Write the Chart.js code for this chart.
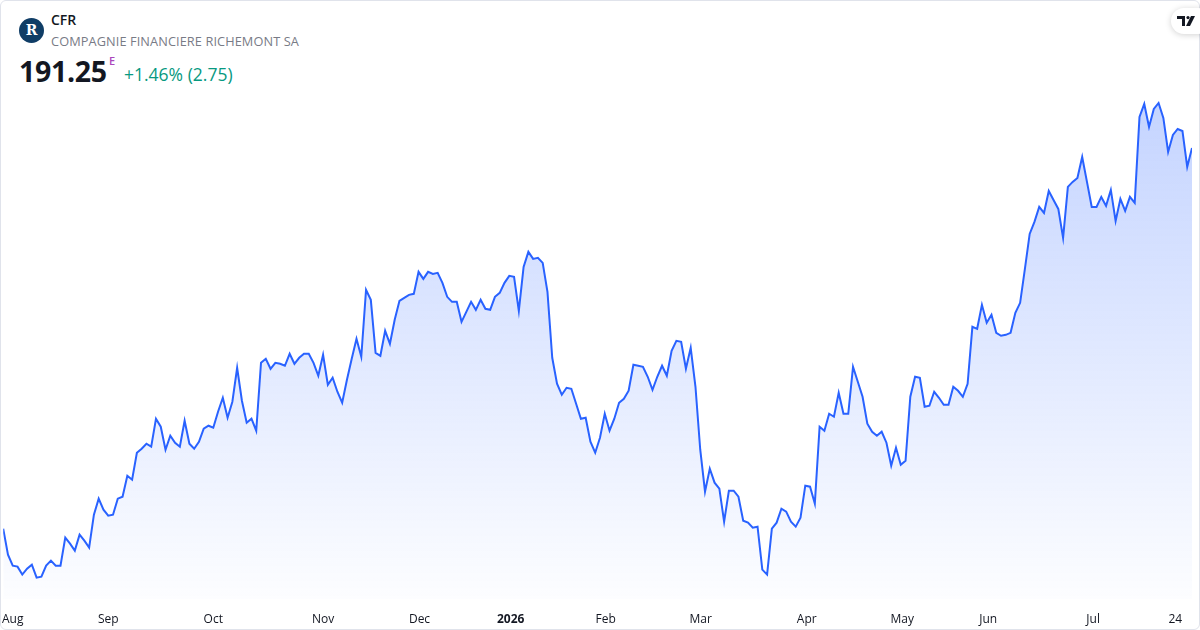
<!DOCTYPE html>
<html>
<head>
<meta charset="utf-8">
<script src="https://cdn.jsdelivr.net/npm/chart.js@4.4.1/dist/chart.umd.min.js"></script>
<style>
  html, body { margin: 0; padding: 0; background: #fff; }
  body { width: 1200px; height: 630px; overflow: hidden; position: relative; font-family: "Open Sans", "Noto Sans", sans-serif; }
  .card { position: absolute; left: 0; top: 0; width: 1198px; height: 628px; border: 1px solid #e0e3eb; border-radius: 6px; z-index: 2; pointer-events: none; }
  .logo { position: absolute; left: 19px; top: 18px; width: 25px; height: 25px; border-radius: 50%; background: #0f3d66;
          color: #fff; font-family: "DejaVu Serif", "Liberation Serif", serif; font-size: 14px; font-weight: bold; text-align: center; line-height: 25px; }
  .sym { position: absolute; left: 51px; top: 10px; font-size: 14px; font-weight: 600; color: #131722; }
  .name { position: absolute; left: 51px; top: 32px; font-size: 12.75px; color: #787b86; letter-spacing: 0.1px; }
  .price { position: absolute; left: 19px; top: 52px; font-size: 28.5px; font-weight: 700; color: #131722; letter-spacing: -0.3px; }
  .flag { position: absolute; left: 109px; top: 53px; font-size: 11px; font-weight: 600; color: #ab47bc; }
  .chg { position: absolute; left: 124px; top: 62px; font-size: 17.5px; color: #089981; }
  .tv { position: absolute; left: 1171px; top: 8px; width: 40px; height: 26px; border-radius: 13px; background: #fff;
        box-shadow: 0 1px 6px rgba(0,0,0,0.18); z-index: 3; }
  .tv svg { position: absolute; left: 6px; top: 8px; }
  #wrap { position: absolute; left: -3px; top: 90px; width: 1203px; height: 542px; }
</style>
</head>
<body>
<div class="card"></div>
<div class="logo">R</div>
<div class="sym">CFR</div>
<div class="name">COMPAGNIE FINANCIERE RICHEMONT SA</div>
<div class="price">191.25</div>
<div class="flag">E</div>
<div class="chg">+1.46% (2.75)</div>
<div class="tv"><svg width="20" height="10" viewBox="0 0 20 10"><path d="M0 0h8v10H5V3H0z M0 0h3v3H0z" fill="#131722"/><circle cx="11" cy="1.6" r="1.6" fill="#131722"/><path d="M14 0h4l-5 10H9z" fill="#131722"/></svg></div>
<div id="wrap"><canvas id="chart"></canvas></div>
<script>
// closing prices, one per trading day (CHF)
const closes = [
  134.1, 130.2, 128.55, 128.4, 127.2, 128.1, 128.7, 126.75, 126.9, 128.55,
  129.3, 128.55, 128.55, 132.75, 131.85, 130.8, 133.2, 132.3, 131.25, 136.2,
  138.6, 136.95, 136.05, 136.2, 138.6, 138.9, 142.05, 141.45, 145.5, 146.1,
  146.85, 146.4, 150.6, 149.4, 145.95, 148.05, 147.0, 146.4, 150.3, 146.85,
  146.1, 147.15, 149.1, 149.55, 149.25, 151.65, 153.75, 150.75, 153.15, 158.25,
  153.3, 150.0, 150.6, 148.8, 159.0, 159.6, 158.1, 159.0, 158.85, 158.55,
  160.35, 158.85, 159.75, 160.35, 160.35, 159.0, 157.05, 160.2, 155.7, 156.75,
  154.65, 153.0, 156.45, 159.6, 162.6, 159.9, 169.95, 168.45, 160.5, 160.05,
  163.8, 161.85, 165.45, 168.3, 168.75, 169.2, 169.35, 172.65, 171.6, 172.65,
  172.35, 172.5, 171.0, 168.9, 168.15, 168.15, 165.15, 166.65, 168.15, 166.95,
  168.45, 167.1, 166.95, 168.9, 169.5, 171.0, 172.05, 171.9, 166.8, 173.4,
  175.65, 174.6, 174.75, 174.0, 169.65, 159.75, 155.85, 154.2, 155.25, 155.1,
  152.85, 150.6, 150.75, 147.15, 145.5, 147.75, 151.35, 148.8, 150.6, 153.0,
  153.6, 154.8, 158.7, 158.55, 158.4, 156.9, 154.95, 156.9, 158.55, 157.05,
  160.8, 162.3, 162.15, 158.1, 161.25, 155.4, 145.95, 139.65, 143.1, 141.0,
  140.1, 135.15, 139.8, 139.8, 138.9, 135.3, 135.0, 134.25, 134.4, 127.95,
  127.2, 134.1, 135.0, 137.1, 136.65, 135.15, 134.4, 135.75, 140.55, 140.4,
  137.85, 149.4, 148.8, 151.35, 150.9, 154.5, 151.35, 151.35, 158.4, 156.15,
  153.9, 149.85, 148.65, 148.05, 148.65, 147.0, 143.55, 146.25, 143.7, 144.3,
  153.9, 156.9, 156.75, 152.4, 152.55, 154.65, 153.75, 152.7, 152.7, 155.4,
  154.8, 153.9, 155.85, 164.4, 164.1, 167.7, 165.0, 166.2, 163.5, 163.05,
  163.2, 163.5, 166.5, 168.0, 173.1, 178.35, 180.15, 182.4, 181.5, 184.8,
  183.45, 182.1, 177.75, 185.4, 186.15, 186.75, 189.9, 186.15, 182.4, 182.4,
  183.9, 182.55, 184.95, 180.3, 183.6, 181.8, 183.9, 183.0, 195.9, 197.85,
  194.4, 197.1, 198.0, 195.75, 190.65, 193.2, 194.1, 193.8, 188.4, 191.25
];

// x-axis labels and the trading-day index where each one sits
const tickLabels = ['Aug', 'Sep', 'Oct', 'Nov', 'Dec', '2026', 'Feb', 'Mar', 'Apr', 'May', 'Jun', 'Jul', '24'];
const tickIndex = [2, 22, 44, 67, 87.2, 106.3, 126.2, 146.1, 168.3, 188.3, 206.3, 228.3, 245.5];

const points = closes.map((v, i) => ({ x: i, y: v }));

const ctx = document.getElementById('chart').getContext('2d');

new Chart(ctx, {
  type: 'line',
  data: {
    datasets: [{
      data: points,
      borderColor: '#2962ff',
      borderWidth: 2,
      pointRadius: 0,
      tension: 0,
      fill: 'start',
      backgroundColor: (c) => {
        const area = c.chart.chartArea;
        if (!area) return 'rgba(41,98,255,0.15)';
        const g = c.chart.ctx.createLinearGradient(0, area.top, 0, area.bottom);
        g.addColorStop(0, 'rgba(41,98,255,0.28)');
        g.addColorStop(1, 'rgba(41,98,255,0.01)');
        return g;
      }
    }]
  },
  options: {
    responsive: true,
    maintainAspectRatio: false,
    animation: false,
    layout: { padding: { left: 2, right: 8, top: 0, bottom: 0 } },
    plugins: { legend: { display: false }, tooltip: { enabled: false } },
    scales: {
      x: {
        type: 'linear',
        min: 0,
        max: closes.length - 1,
        grid: { display: false },
        border: { display: false },
        afterBuildTicks: (axis) => { axis.ticks = tickIndex.map(v => ({ value: v })); },
        ticks: {
          autoSkip: false,
          maxRotation: 0,
          padding: 5,
          color: '#131722',
          font: (c) => ({ family: 'Open Sans', size: 12, weight: c.index === 5 ? 'bold' : 'normal' }),
          callback: (v, i) => tickLabels[i]
        }
      },
      y: {
        display: false,
        min: 123.45,
        max: 199.95
      }
    }
  }
});
</script>
</body>
</html>
